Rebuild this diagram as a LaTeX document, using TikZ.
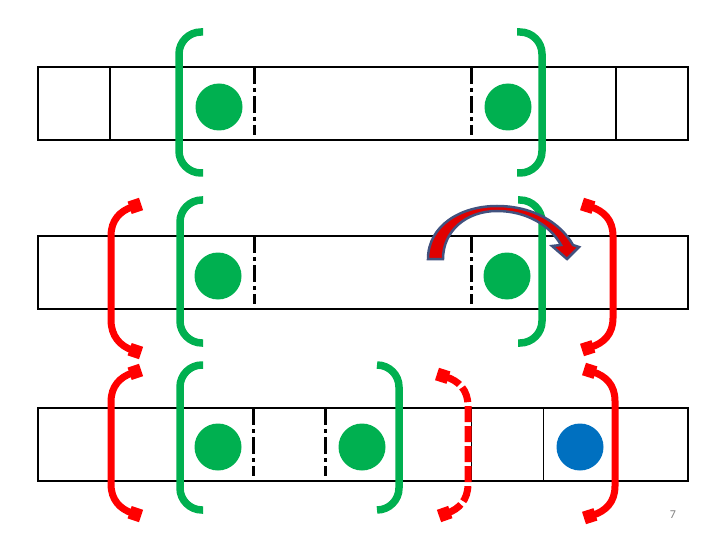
\documentclass[tikz,border=0pt]{standalone}
\usepackage{fontspec}
\newfontfamily\pgnumfont{Carlito}
\usetikzlibrary{arrows.meta}
\definecolor{gbr}{HTML}{00B050}
\definecolor{rbr}{HTML}{FF0000}
\definecolor{bdot}{HTML}{0070C0}
\definecolor{arrfill}{HTML}{E00000}
\definecolor{arrline}{HTML}{41527F}
\tikzset{
  cellbox/.style={draw=black, line width=1.5pt},
  divline/.style={draw=black, line width=1.5pt},
  dashdot/.style={draw=black, line width=3pt, dash pattern=on 17pt off 4pt on 4pt off 4pt},
  greenbr/.style={draw=gbr, line width=7.5pt, rounded corners=22pt},
  redbr/.style={draw=rbr, line width=7pt, {Square[length=12pt,width=13pt]}-{Square[length=12pt,width=13pt]}},
  reddash/.style={redbr, dash pattern=on 16pt off 4pt},
  gdot/.style={circle, fill=gbr, minimum size=47pt, inner sep=0pt},
  bluedot/.style={circle, fill=bdot, minimum size=47pt, inner sep=0pt},
  curvarrow/.style={fill=arrfill, draw=arrline, line width=2.5pt, line join=miter},
}
\begin{document}
\begin{tikzpicture}[x=1pt,y=-1pt]
\useasboundingbox (0,0) rectangle (720,540);
% ---------- Row 1 ----------
\draw[cellbox] (38,67) rectangle (688,140);
\foreach \xx in {110.2,182.4,543.6,615.8} \draw[divline] (\xx,67) -- (\xx,140);
\draw[dashdot] (254.7,67) -- (254.7,135);
\draw[dashdot] (471.3,67) -- (471.3,135);
\node[gdot] (d11) at (219,107) {};
\node[gdot] (d12) at (508,107) {};
\draw[greenbr] (203,32) -- (179,32) -- (179,173) -- (203,173);
\draw[greenbr] (517,32) -- (542,32) -- (542,173) -- (517,173);
% ---------- Row 2 ----------
\draw[cellbox] (38,236) rectangle (688,309);
\draw[dashdot] (254.7,236) -- (254.7,304);
\draw[dashdot] (471.3,236) -- (471.3,304);
\node[gdot] (d21) at (218,276) {};
\node[gdot] (d22) at (507,276) {};
\draw[greenbr] (203,200) -- (180,200) -- (180,343) -- (203,343);
\draw[greenbr] (518,200) -- (542,200) -- (542,343) -- (518,343);
\draw[redbr] (141,204) .. controls (120,211) and (111,220) .. (111,236) -- (111,320) .. controls (111,336) and (120,346) .. (141,353);
\draw[redbr] (582,204) .. controls (604,211) and (613,220) .. (613,236) -- (613,318) .. controls (613,334) and (604,343) .. (582,350);
% curved arrow
\draw[curvarrow] (428,259) .. controls (428,226) and (460,206) .. (497,206)
   .. controls (532,206) and (560,222) .. (573,245)
   -- (579,247) -- (567,259) -- (552,246) -- (561,245)
   .. controls (550,225) and (526,211) .. (497,211)
   .. controls (466,211) and (443,231) .. (443,259) -- cycle;
% ---------- Row 3 ----------
\draw[cellbox] (38,408) rectangle (688,481);
\foreach \xx in {110.2,182.4,399.1,471.3,543.6,615.8} \draw[divline] (\xx,408) -- (\xx,481);
\draw[dashdot] (253.5,408) -- (253.5,476);
\draw[dashdot] (325.5,408) -- (325.5,476);
\node[gdot] (d31) at (218,447) {};
\node[gdot] (d32) at (362,447) {};
\node[bluedot] (d33) at (580,447) {};
\draw[greenbr] (203,365) -- (180,365) -- (180,510) -- (203,510);
\draw[greenbr] (377,365) -- (399,365) -- (399,510) -- (377,510);
\draw[redbr] (141,370) .. controls (120,377) and (111,386) .. (111,402) -- (111,484) .. controls (111,500) and (120,509) .. (141,516);
\draw[redbr] (584,369) .. controls (606,376) and (615,385) .. (615,401) -- (615,486) .. controls (615,502) and (606,511) .. (584,518);
\draw[reddash] (437,374) .. controls (459,381) and (468,390) .. (468,406) -- (468,484) .. controls (468,500) and (459,509) .. (439,516);
% page number
\node[text=gray, font=\pgnumfont\fontsize{12}{12}\selectfont] (pg) at (673,515) {7};
\end{tikzpicture}
\end{document}
